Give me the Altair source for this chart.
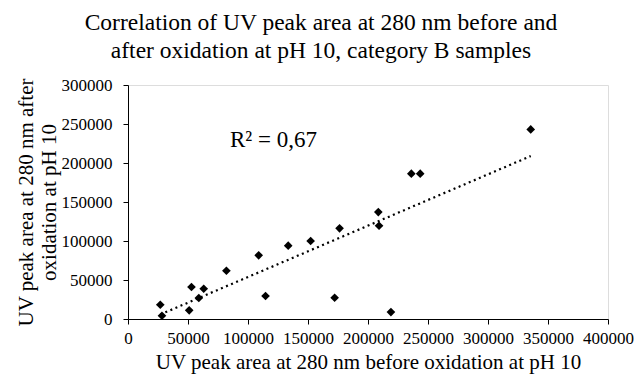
import altair as alt
import pandas as pd

before = [26900, 28300, 51000, 52900, 59000, 63100, 82000, 108900, 114600, 133500,
          152200, 172200, 176300, 208600, 209200, 219100, 236100, 243500, 335600]
after = [18300, 4200, 11100, 41000, 26900, 38800, 61900, 81600, 29500, 94000,
         100000, 27300, 116200, 137100, 119600, 8900, 186300, 186300, 243100]

x_ticks = [0, 50000, 100000, 150000, 200000, 250000, 300000, 350000, 400000]
y_ticks = [0, 50000, 100000, 150000, 200000, 250000, 300000]

df = pd.DataFrame({"before": before, "after": after})
FONT = "Liberation Serif"

xenc = alt.X("before:Q",
             scale=alt.Scale(domain=[0, 400000], nice=False),
             axis=alt.Axis(values=x_ticks, format="d", title="UV peak area at 280 nm before oxidation at pH 10",
                           grid=False, domainColor="black", tickColor="black", tickSize=5,
                           labelFlush=False, labelOverlap=False,
                           labelFont=FONT, labelFontSize=17, labelColor="black", labelPadding=6,
                           titleFont=FONT, titleFontSize=21, titleFontWeight="normal",
                           titleColor="black", titlePadding=5))
yenc = alt.Y("after:Q",
             scale=alt.Scale(domain=[0, 300000], nice=False),
             axis=alt.Axis(values=y_ticks, format="d", title=["UV peak area at 280 nm after", "oxidation at pH 10"],
                           grid=False, domainColor="black", tickColor="black", tickSize=5,
                           labelFlush=False, labelOverlap=False,
                           labelFont=FONT, labelFontSize=17, labelColor="black", labelPadding=11,
                           titleFont=FONT, titleFontSize=21, titleFontWeight="normal",
                           titleColor="black", titlePadding=2, titleLineHeight=23))

trend = alt.Chart(df).transform_regression("before", "after").mark_line(
    color="black", strokeDash=[2, 3.5], strokeWidth=2.2).encode(x=xenc, y=yenc)

points = alt.Chart(df).mark_point(shape="diamond", filled=True, color="black", size=75, opacity=1).encode(
    x=xenc, y=yenc)

label_df = pd.DataFrame({"before": [85000], "after": [229000], "t": ["R² = 0,67"]})
label = alt.Chart(label_df).mark_text(font=FONT, fontSize=23, align="left", baseline="middle",
                                      color="black").encode(x=xenc, y=yenc, text="t:N")

chart = alt.layer(trend, points, label).properties(
    width=480, height=234,
    autosize=alt.AutoSizeParams(type="none"),
    padding={"left": 120, "top": 77, "right": 27, "bottom": 55},
    title=alt.TitleParams(["Correlation of UV peak area at 280 nm before and",
                           "after oxidation at pH 10, category B samples"],
                          font=FONT, fontSize=23.5, fontWeight="normal", color="black",
                          lineHeight=28, anchor="middle", offset=14, dx=-47)
).configure_view(stroke=None).configure_axis(
    labelFont=FONT, titleFont=FONT
).configure(background="white", font=FONT)

chart.save("out.html", embed_options={"renderer": "svg", "actions": False})
